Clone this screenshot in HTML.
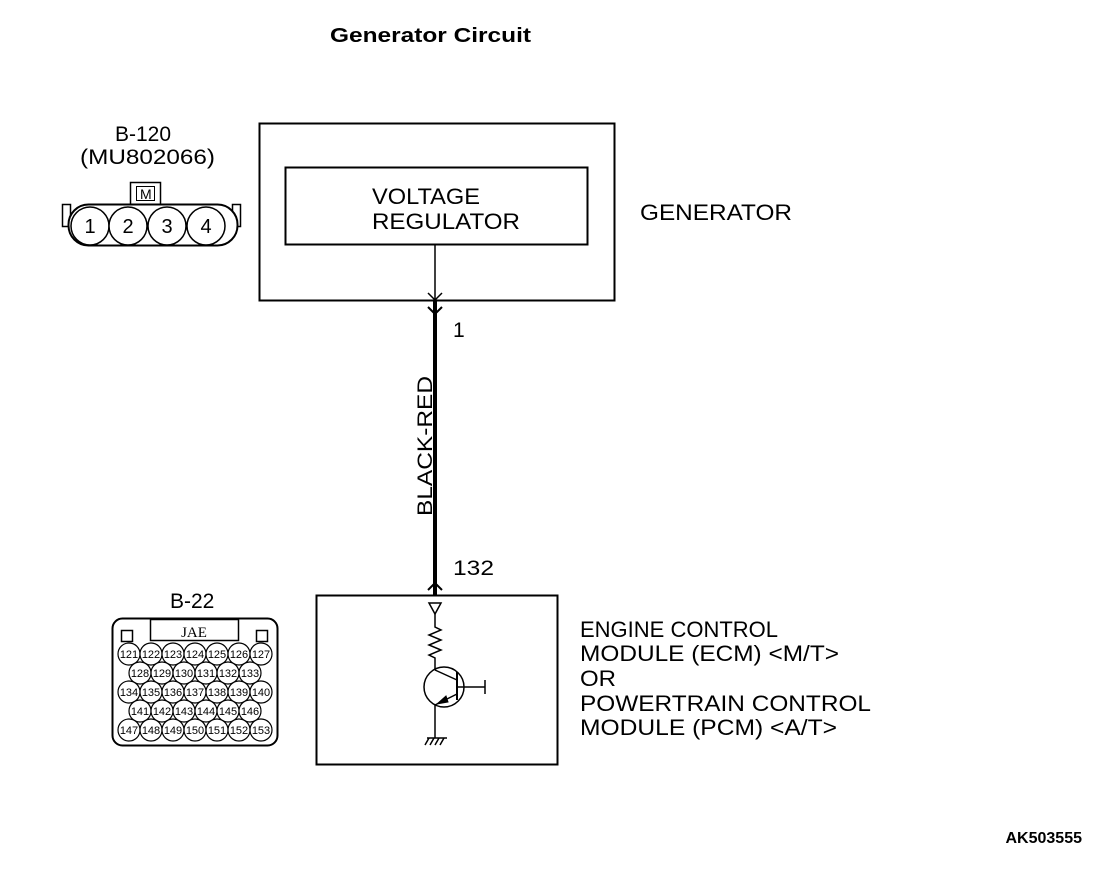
<!DOCTYPE html>
<html><head><meta charset="utf-8"><style>html,body{margin:0;padding:0;background:#fff}svg{display:block}</style></head>
<body>
<svg width="1120" height="872" viewBox="0 0 1120 872" xmlns="http://www.w3.org/2000/svg" font-family="Liberation Sans, Arial, sans-serif" fill="none" stroke="#000">
<g fill="#000" stroke="none">
<text x="330" y="42" font-size="20" font-weight="bold" textLength="201" lengthAdjust="spacingAndGlyphs">Generator Circuit</text>
<text x="372" y="204" font-size="22" textLength="108" lengthAdjust="spacingAndGlyphs">VOLTAGE</text>
<text x="372" y="229" font-size="22" textLength="148" lengthAdjust="spacingAndGlyphs">REGULATOR</text>
<text x="640" y="220" font-size="22" textLength="152" lengthAdjust="spacingAndGlyphs">GENERATOR</text>
<text x="115" y="141" font-size="21">B-120</text>
<text x="80" y="164" font-size="21" textLength="135" lengthAdjust="spacingAndGlyphs">(MU802066)</text>
<text x="453" y="337" font-size="21">1</text>
<text x="453" y="575" font-size="21" textLength="41" lengthAdjust="spacingAndGlyphs">132</text>
<text transform="translate(432,516) rotate(-90)" font-size="21" textLength="140" lengthAdjust="spacingAndGlyphs">BLACK-RED</text>
<text x="580" y="637" font-size="22">ENGINE CONTROL</text>
<text x="580" y="661" font-size="22" textLength="259" lengthAdjust="spacingAndGlyphs">MODULE (ECM) &lt;M/T&gt;</text>
<text x="580" y="686" font-size="22" textLength="36" lengthAdjust="spacingAndGlyphs">OR</text>
<text x="580" y="711" font-size="22" textLength="291" lengthAdjust="spacingAndGlyphs">POWERTRAIN CONTROL</text>
<text x="580" y="735" font-size="22" textLength="257" lengthAdjust="spacingAndGlyphs">MODULE (PCM) &lt;A/T&gt;</text>
<text x="170" y="608" font-size="21">B-22</text>
<text x="1082" y="843" font-size="16" font-weight="bold" text-anchor="end">AK503555</text>
</g>
<!-- generator -->
<rect x="259.5" y="123.5" width="355" height="177" stroke-width="2"/>
<rect x="285.5" y="167.5" width="302" height="77" stroke-width="2"/>
<line x1="435" y1="244" x2="435" y2="300" stroke-width="1.5"/>
<polyline points="428,293 435,300 442,293" stroke-width="1.5"/>
<line x1="435" y1="300" x2="435" y2="595" stroke-width="4"/>
<polyline points="428,307 435,314 442,307" stroke-width="2"/>
<polyline points="428,590 435,583 442,590" stroke-width="2"/>
<!-- ECM -->
<rect x="316.5" y="595.5" width="241" height="169" stroke-width="2"/>
<polygon points="429,603 441,603 435,614" stroke-width="1.5"/>
<polyline points="435,614 435,627 441,630 429,635 441,640 429,645 441,650 429,655 435,658 435,670" stroke-width="1.5"/>
<circle cx="444" cy="687" r="20" stroke-width="1.5"/>
<line x1="457" y1="672" x2="457" y2="700" stroke-width="2"/>
<line x1="435" y1="670" x2="457" y2="680" stroke-width="1.5"/>
<line x1="457" y1="694" x2="435" y2="705" stroke-width="1.5"/>
<polygon points="437,704 446,696 448,702" fill="#000"/>
<line x1="457" y1="687" x2="485" y2="687" stroke-width="1.5"/>
<line x1="485" y1="680" x2="485" y2="694" stroke-width="1.5"/>
<line x1="435" y1="705" x2="435" y2="738" stroke-width="1.5"/>
<line x1="427" y1="738" x2="447" y2="738" stroke-width="1.5"/>
<g stroke-width="1.5"><line x1="429" y1="738" x2="425" y2="745"/><line x1="434" y1="738" x2="430" y2="745"/><line x1="439" y1="738" x2="435" y2="745"/><line x1="444" y1="738" x2="440" y2="745"/></g>
<!-- B-120 -->
<rect x="130.5" y="182.5" width="30" height="22" stroke-width="1.5"/>
<rect x="136.5" y="186.5" width="18" height="14" stroke-width="1"/>
<text x="140" y="199" font-size="14" fill="#000" stroke="none">M</text>
<rect x="62.5" y="204.5" width="8" height="22" stroke-width="1.5"/>
<rect x="232.5" y="204.5" width="8" height="22" stroke-width="1.5"/>
<rect x="68.5" y="204.5" width="169" height="41" rx="20" fill="#fff" stroke-width="2"/>
<g stroke-width="1.5" fill="#fff">
<circle cx="90" cy="226" r="19"/><circle cx="128" cy="226" r="19"/><circle cx="167" cy="226" r="19"/><circle cx="206" cy="226" r="19"/>
</g>
<g fill="#000" stroke="none" font-size="20" text-anchor="middle">
<text x="90" y="233">1</text><text x="128" y="233">2</text><text x="167" y="233">3</text><text x="206" y="233">4</text>
</g>
<!-- B-22 -->
<rect x="112.5" y="618.5" width="165" height="127" rx="10" stroke-width="2"/>
<rect x="150.5" y="619.5" width="88" height="21" stroke-width="1.5"/>
<text x="194" y="637" font-size="15" font-family="Liberation Serif, serif" text-anchor="middle" fill="#000" stroke="none">JAE</text>
<rect x="121.5" y="630.5" width="11" height="11" stroke-width="1.5"/>
<rect x="256.5" y="630.5" width="11" height="11" stroke-width="1.5"/>
<g stroke-width="1.2" fill="#fff">
<g transform="translate(0,654)"><circle cx="129" r="11"/><circle cx="151" r="11"/><circle cx="173" r="11"/><circle cx="195" r="11"/><circle cx="217" r="11"/><circle cx="239" r="11"/><circle cx="261" r="11"/></g>
<g transform="translate(0,673)"><circle cx="140" r="11"/><circle cx="162" r="11"/><circle cx="184" r="11"/><circle cx="206" r="11"/><circle cx="228" r="11"/><circle cx="250" r="11"/></g>
<g transform="translate(0,692)"><circle cx="129" r="11"/><circle cx="151" r="11"/><circle cx="173" r="11"/><circle cx="195" r="11"/><circle cx="217" r="11"/><circle cx="239" r="11"/><circle cx="261" r="11"/></g>
<g transform="translate(0,711)"><circle cx="140" r="11"/><circle cx="162" r="11"/><circle cx="184" r="11"/><circle cx="206" r="11"/><circle cx="228" r="11"/><circle cx="250" r="11"/></g>
<g transform="translate(0,730)"><circle cx="129" r="11"/><circle cx="151" r="11"/><circle cx="173" r="11"/><circle cx="195" r="11"/><circle cx="217" r="11"/><circle cx="239" r="11"/><circle cx="261" r="11"/></g>
</g>
<g fill="#000" stroke="none" font-size="11" text-anchor="middle" font-family="Liberation Sans Narrow, Liberation Sans, sans-serif">
<text x="129" y="658">121</text><text x="151" y="658">122</text><text x="173" y="658">123</text><text x="195" y="658">124</text><text x="217" y="658">125</text><text x="239" y="658">126</text><text x="261" y="658">127</text>
<text x="140" y="677">128</text><text x="162" y="677">129</text><text x="184" y="677">130</text><text x="206" y="677">131</text><text x="228" y="677">132</text><text x="250" y="677">133</text>
<text x="129" y="696">134</text><text x="151" y="696">135</text><text x="173" y="696">136</text><text x="195" y="696">137</text><text x="217" y="696">138</text><text x="239" y="696">139</text><text x="261" y="696">140</text>
<text x="140" y="715">141</text><text x="162" y="715">142</text><text x="184" y="715">143</text><text x="206" y="715">144</text><text x="228" y="715">145</text><text x="250" y="715">146</text>
<text x="129" y="734">147</text><text x="151" y="734">148</text><text x="173" y="734">149</text><text x="195" y="734">150</text><text x="217" y="734">151</text><text x="239" y="734">152</text><text x="261" y="734">153</text>
</g>
</svg>
</body></html>
